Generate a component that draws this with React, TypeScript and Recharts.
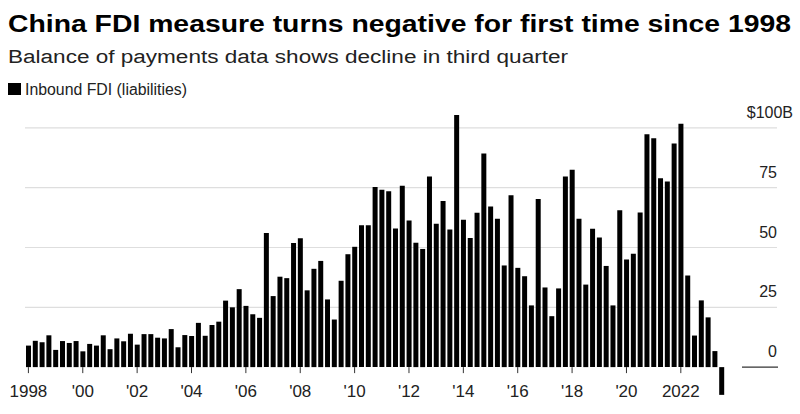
import React from 'react';
import { BarChart, Bar, XAxis, YAxis, CartesianGrid, ReferenceLine } from 'recharts';

// quarterly inbound FDI, $ billions, 1998 Q1 .. 2023 Q3
const years = Array.from({ length: 26 }, (_, i) => 1998 + i);
const quarterLabels = years.flatMap((y) => ['Q1', 'Q2', 'Q3', 'Q4'].map((q) => `${y} ${q}`)).slice(0, 103);

const fdiValues = [
  9.0, 11.0, 10.4, 13.3,
  7.2, 10.9, 10.1, 10.9,
  6.6, 9.7, 9.0, 13.3,
  7.5, 12.0, 10.8, 13.9,
  9.4, 13.8, 13.8, 12.3,
  12.0, 15.9, 8.3, 13.4,
  13.0, 18.5, 13.1, 17.6,
  19.0, 27.8, 25.0, 32.6,
  25.6, 22.1, 20.6, 56.1,
  29.7, 37.8, 37.2, 51.9,
  53.9, 32.1, 41.1, 44.4,
  28.3, 19.9, 36.1, 47.2,
  50.3, 59.3, 59.3, 75.3,
  74.1, 73.5, 57.9, 75.8,
  61.3, 52.0, 49.4, 79.7,
  59.9, 69.4, 57.5, 105.4,
  61.6, 54.0, 64.5, 89.3,
  67.1, 62.0, 42.5, 71.9,
  41.5, 38.0, 25.8, 70.3,
  33.3, 21.3, 32.9, 79.7,
  82.5, 62.0, 34.5, 57.8,
  54.2, 42.3, 25.8, 65.6,
  45.0, 47.4, 64.6, 97.4,
  95.7, 79.0, 77.6, 93.5,
  101.7, 38.3, 13.2, 27.9,
  20.8, 6.7, -11.6,
];

const yTicks = [0, 25, 50, 75, 100];

const data = quarterLabels.map((q, i) => ({ quarter: q, fdi: fdiValues[i] }));

const W = 800;
const H = 414;
const Y_MIN = -15;
const Y_MAX = 110;
const PLOT_TOP = 104;
const PLOT_BOTTOM = 403;
const PLOT_RIGHT = 777;
const ZERO_Y = PLOT_TOP + ((PLOT_BOTTOM - PLOT_TOP) * Y_MAX) / (Y_MAX - Y_MIN);
const FONT = '"Liberation Sans", Arial, sans-serif';

const YearTick = (props: any) => {
  const { x, payload } = props;
  const [yr, q] = String(payload.value).split(' ');
  const year = Number(yr);
  if (q !== 'Q1' || year % 2 !== 0) return <g />;
  const label = year === 1998 || year === 2022 ? String(year) : `'${yr.slice(2)}`;
  return (
    <g>
      <line x1={x} x2={x} y1={ZERO_Y} y2={ZERO_Y + 6} stroke="#333" strokeWidth={1} />
      <text x={x} y={ZERO_Y + 30} textAnchor="middle" fontSize={17} fill="#222" fontFamily={FONT}>
        {label}
      </text>
    </g>
  );
};

const ValueTick = (props: any) => {
  const { y, payload } = props;
  const v = payload.value;
  return (
    <text
      x={v === 100 ? 793 : PLOT_RIGHT}
      y={y - 10}
      textAnchor="end"
      fontSize={16}
      fill="#222"
      fontFamily={FONT}
    >
      {v === 100 ? '$100B' : v}
    </text>
  );
};

const ZeroSegment = (props: any) => {
  const { x1, x2, y1 } = props;
  const right = Math.max(x1, x2);
  return <line x1={right - 35} x2={right + 1} y1={y1} y2={y1} stroke="#333" strokeWidth={1.2} />;
};

export default function App() {
  return (
    <div style={{ position: 'absolute', left: 0, top: 0, width: W, height: H, background: '#fff' }}>
      <svg width={W} height={110} style={{ position: 'absolute', left: 0, top: 0 }}>
        <text x={8} y={32} fontSize={23} fontWeight="bold" fill="#000" fontFamily={FONT} textLength={783} lengthAdjust="spacingAndGlyphs">
          China FDI measure turns negative for first time since 1998
        </text>
        <text x={8} y={63} fontSize={18} fill="#222" fontFamily={FONT} textLength={560} lengthAdjust="spacingAndGlyphs">
          Balance of payments data shows decline in third quarter
        </text>
        <rect x={8} y={83} width={13} height={12} fill="#000" />
        <text x={25} y={95} fontSize={16} fill="#222" fontFamily={FONT} textLength={162} lengthAdjust="spacingAndGlyphs">
          Inbound FDI (liabilities)
        </text>
      </svg>
      <div style={{ position: 'absolute', left: 0, top: 0 }}>
        <BarChart
          width={W}
          height={H}
          data={data}
          margin={{ top: PLOT_TOP, right: 0, bottom: 0, left: 25 }}
          barCategoryGap={1}
        >
          <CartesianGrid vertical={false} horizontalValues={[25, 50, 75, 100]} stroke="#dedede" strokeWidth={1.2} />
          <XAxis
            dataKey="quarter"
            height={H - PLOT_BOTTOM}
            interval={0}
            axisLine={false}
            tickLine={false}
            tick={<YearTick />}
            padding={{ left: 0, right: 52 }}
          />
          <YAxis
            orientation="right"
            width={23}
            domain={[Y_MIN, Y_MAX]}
            ticks={yTicks}
            axisLine={false}
            tickLine={false}
            tick={<ValueTick />}
            allowDataOverflow
          />
          <ReferenceLine y={0} shape={<ZeroSegment />} />
          <Bar dataKey="fdi" fill="#000" isAnimationActive={false} />
        </BarChart>
      </div>
    </div>
  );
}
